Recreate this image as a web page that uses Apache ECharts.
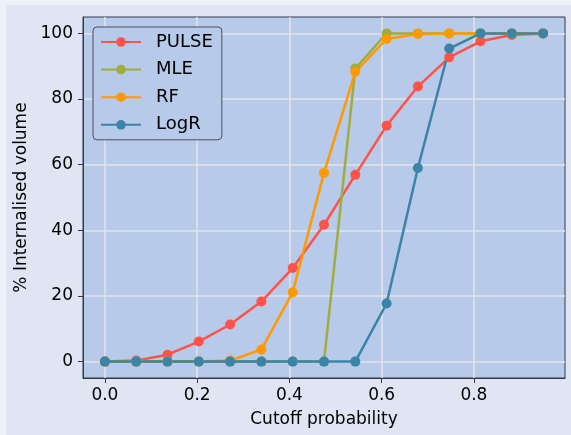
<!DOCTYPE html>
<html>
<head>
<meta charset="utf-8">
<script src="https://cdn.jsdelivr.net/npm/echarts@6/dist/echarts.min.js"></script>
<style>
html,body{margin:0;padding:0;background:#eef1f8;}
#wrap{position:absolute;left:6px;top:5px;width:565px;height:430px;background:#dfe5f3;}
#chart{position:absolute;left:-6px;top:-5px;width:571px;height:435px;}
</style>
</head>
<body>
<div id="wrap"><div id="chart"></div></div>
<script>
const cutoffs = [0, 0.06786, 0.13571, 0.20357, 0.27143, 0.33929, 0.40714, 0.475, 0.54286, 0.61071, 0.67857, 0.74643, 0.81429, 0.88214, 0.95];
const pulse = [0, 0.3, 2.1, 6.1, 11.3, 18.3, 28.5, 41.7, 56.9, 71.9, 83.8, 92.7, 97.6, 99.5, 100];
const mle   = [0, 0, 0, 0, 0, 0, 0, 0, 89.3, 100, 100, 100, 100, 100, 100];
const rf    = [0, 0, 0, 0, 0.3, 3.7, 21.1, 57.5, 88.3, 98.3, 99.8, 100, 100, 100, 100];
const logr  = [0, 0, 0, 0, 0, 0, 0, 0, 0, 17.7, 59.0, 95.4, 100, 100, 100];
const xTicks = [0, 0.2, 0.4, 0.6, 0.8];
const yTicks = [0, 20, 40, 60, 80, 100];

const names = ['PULSE', 'MLE', 'RF', 'LogR'];
const colors = ['#ff5349', '#a0ab40', '#ff9900', '#3a84a8'];
const values = [pulse, mle, rf, logr];

const chart = echarts.init(document.getElementById('chart'), null, {renderer: 'canvas'});
const font = 'DejaVu Sans';
const axisCommon = {
  axisLine: {show: true, onZero: false, lineStyle: {color: '#333844', width: 1}},
  axisTick: {show: true, length: 5, lineStyle: {color: '#333844', width: 1}},
  splitLine: {show: true, lineStyle: {color: '#e2e4ea', width: 1.5}},
  nameTextStyle: {fontFamily: font, fontSize: 17, color: '#000'}
};
chart.setOption({
  animation: false,
  backgroundColor: 'transparent',
  grid: {left: 83, top: 17, right: 6, bottom: 57, show: true, backgroundColor: '#b7cae9', borderColor: '#333844', borderWidth: 1},
  xAxis: Object.assign({}, axisCommon, {
    type: 'value', min: -0.0475, max: 0.9975,
    name: 'Cutoff probability', nameLocation: 'middle', nameGap: 33,
    axisTick: Object.assign({}, axisCommon.axisTick, {customValues: xTicks}),
    axisLabel: {customValues: xTicks, margin: 9, fontFamily: font, fontSize: 17, color: '#000', formatter: v => v.toFixed(1)}
  }),
  yAxis: Object.assign({}, axisCommon, {
    type: 'value', min: -5, max: 105,
    name: '% Internalised volume', nameLocation: 'middle', nameGap: 52,
    axisTick: Object.assign({}, axisCommon.axisTick, {customValues: yTicks}),
    axisLabel: {customValues: yTicks, margin: 10, fontFamily: font, fontSize: 17, color: '#000'}
  }),
  legend: {
    orient: 'vertical', left: 93, top: 27,
    padding: [6, 9, 6, 7], itemGap: 9.6,
    itemWidth: 40, itemHeight: 12,
    backgroundColor: '#b7cae9', borderColor: '#4a4f5a', borderWidth: 1, borderRadius: 4,
    textStyle: {fontFamily: font, fontSize: 18, color: '#000', padding: [0, 0, 0, 10], lineHeight: 18},
    data: names
  },
  series: names.map((n, i) => ({
    name: n, type: 'line',
    data: cutoffs.map((x, j) => [x, values[i][j]]),
    symbol: 'circle', symbolSize: 10, showAllSymbol: true,
    lineStyle: {width: 2.5, color: colors[i]},
    itemStyle: {color: colors[i]},
    emphasis: {disabled: true}
  }))
});
</script>
</body>
</html>
